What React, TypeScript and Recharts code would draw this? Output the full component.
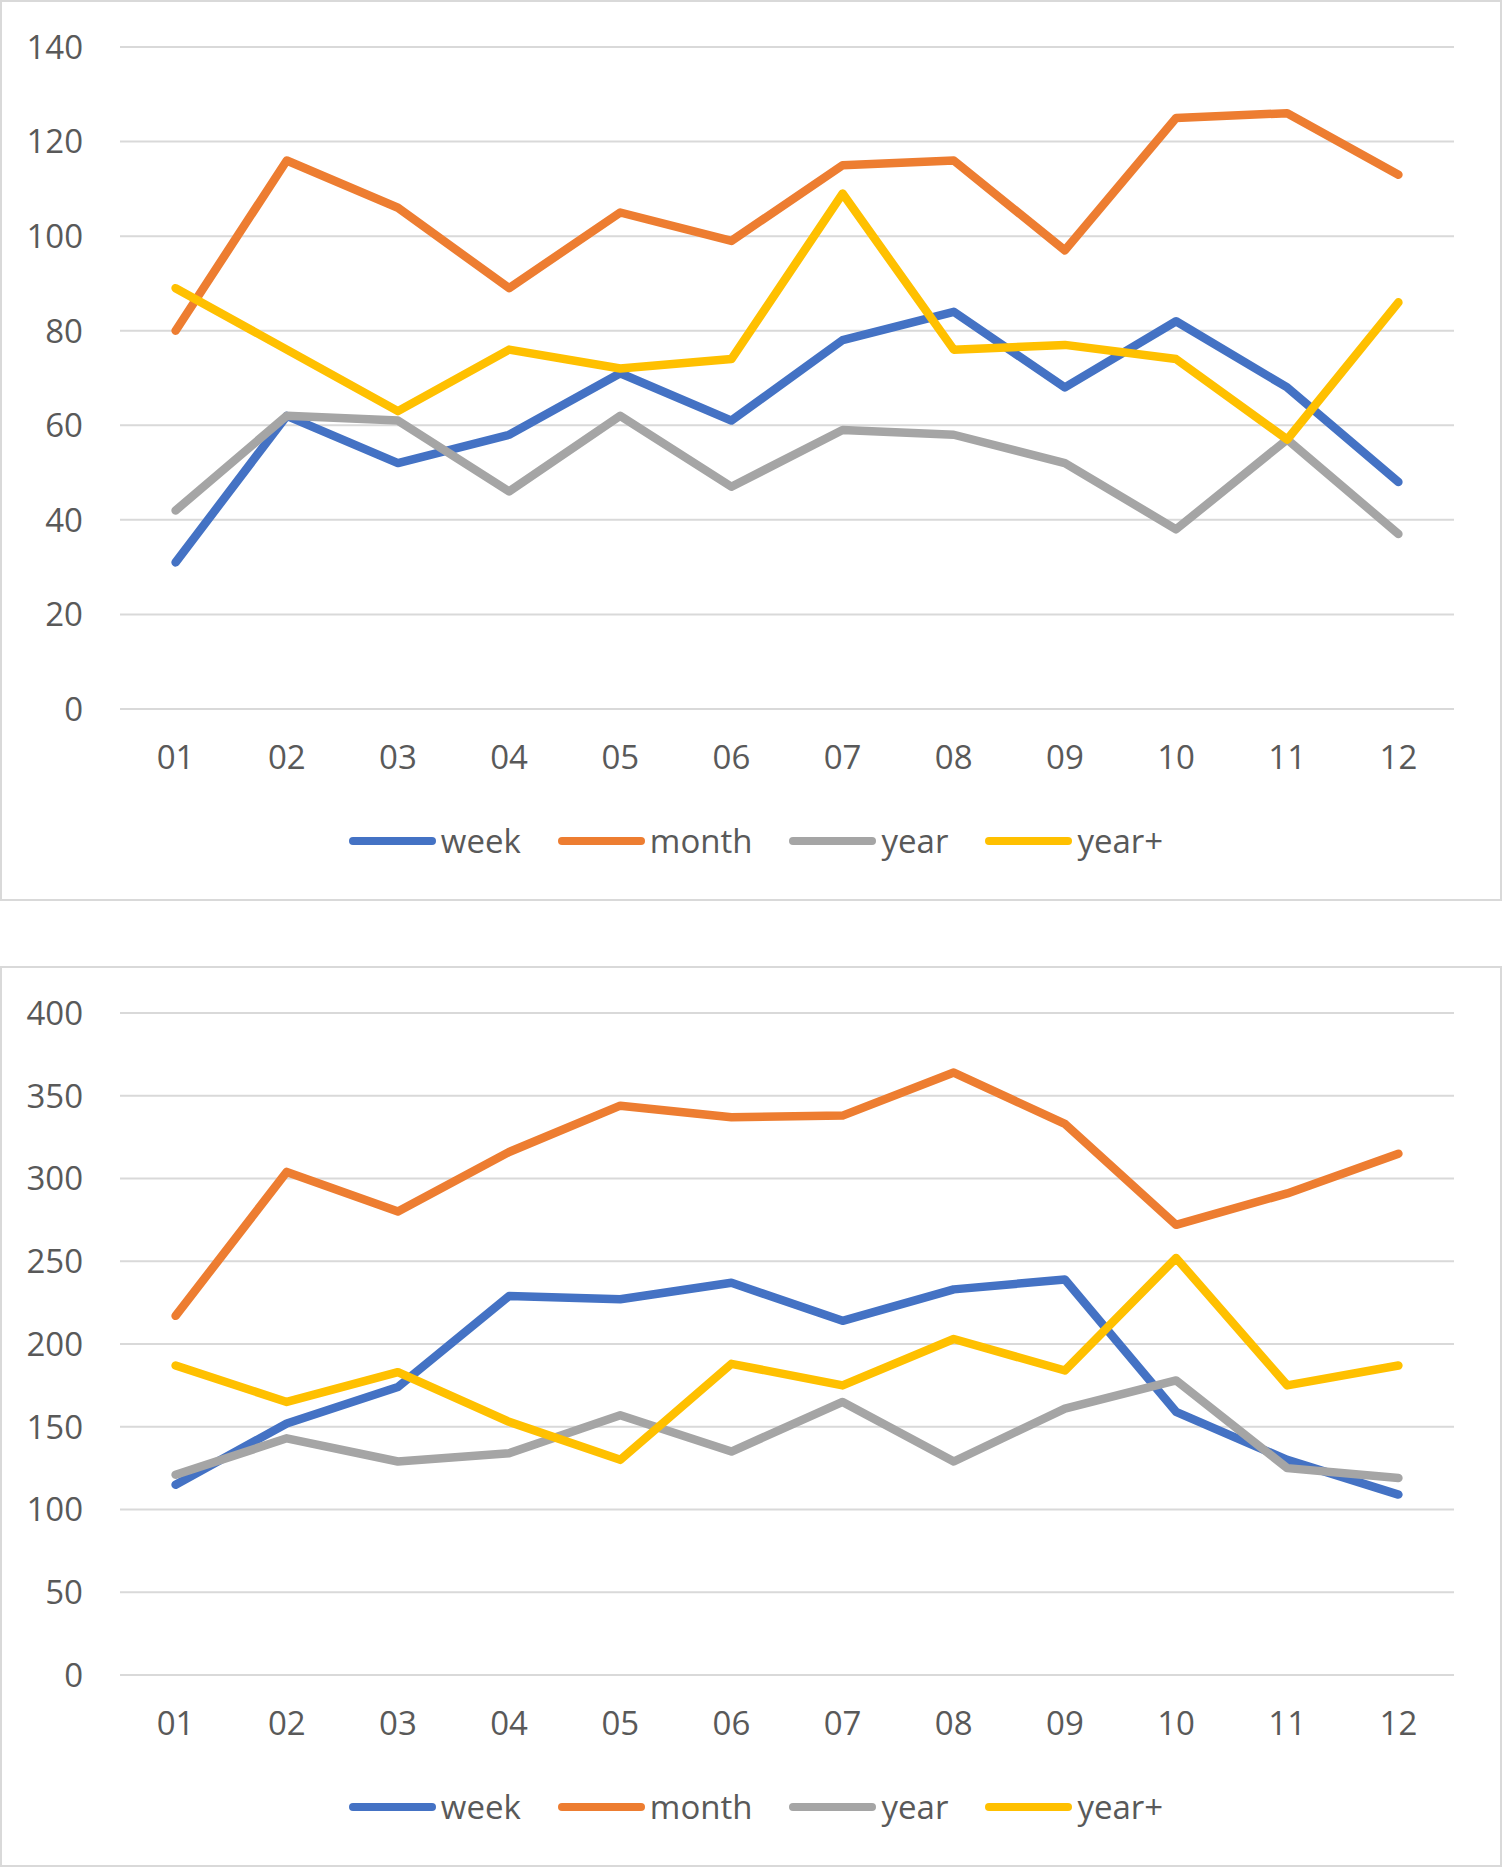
import React from 'react';
import { LineChart, Line, XAxis, YAxis, CartesianGrid, Legend } from 'recharts';

const MONTHS = ['01', '02', '03', '04', '05', '06', '07', '08', '09', '10', '11', '12'];

const TOP_WEEK = [31, 62, 52, 58, 71, 61, 78, 84, 68, 82, 68, 48];
const TOP_MONTH = [80, 116, 106, 89, 105, 99, 115, 116, 97, 125, 126, 113];
const TOP_YEAR = [42, 62, 61, 46, 62, 47, 59, 58, 52, 38, 57, 37];
const TOP_YEAR_PLUS = [89, 76, 63, 76, 72, 74, 109, 76, 77, 74, 57, 86];
const TOP_TICKS = [0, 20, 40, 60, 80, 100, 120, 140];

const BOTTOM_WEEK = [115, 152, 174, 229, 227, 237, 214, 233, 239, 159, 130, 109];
const BOTTOM_MONTH = [217, 304, 280, 316, 344, 337, 338, 364, 333, 272, 291, 315];
const BOTTOM_YEAR = [121, 143, 129, 134, 157, 135, 165, 129, 161, 178, 125, 119];
const BOTTOM_YEAR_PLUS = [187, 165, 183, 153, 130, 188, 175, 203, 184, 252, 175, 187];
const BOTTOM_TICKS = [0, 50, 100, 150, 200, 250, 300, 350, 400];

const SERIES = [
  { key: 'week', name: 'week', color: '#4472C4' },
  { key: 'month', name: 'month', color: '#ED7D31' },
  { key: 'year', name: 'year', color: '#A5A5A5' },
  { key: 'yearPlus', name: 'year+', color: '#FFC000' },
];
const SERIES_ORDER = SERIES.map((s) => s.name);

const FONT = "'Open Sans', sans-serif";
const TEXT = '#595959';
const FS = 33;
const LINE_W = 8.5;

function buildRows(week: number[], month: number[], year: number[], yearPlus: number[]) {
  return MONTHS.map((m, i) => ({ m, week: week[i], month: month[i], year: year[i], yearPlus: yearPlus[i] }));
}

const YTick = (props: any) => {
  const { x, y, payload } = props;
  return (
    <text x={x - 37} y={y} dy="0.36em" textAnchor="end" fill={TEXT} fontSize={FS} fontFamily={FONT}>
      {payload.value}
    </text>
  );
};

const XTick = (props: any) => {
  const { x, y, payload } = props;
  return (
    <text x={x} y={y + 48} dy="0.36em" textAnchor="middle" fill={TEXT} fontSize={FS} fontFamily={FONT}>
      {payload.value}
    </text>
  );
};

const LegendContent = (props: any) => {
  const payload = [...(props.payload || [])].sort(
    (a: any, b: any) => SERIES_ORDER.indexOf(a.value) - SERIES_ORDER.indexOf(b.value)
  );
  return (
    <div
      style={{
        height: 60,
        display: 'flex',
        alignItems: 'center',
        justifyContent: 'center',
        paddingLeft: 10,
        gap: 37,
        fontFamily: FONT,
        fontSize: FS,
        color: TEXT,
      }}
    >
      {payload.map((p: any) => (
        <div key={p.value} style={{ display: 'flex', alignItems: 'center' }}>
          <span
            style={{
              display: 'inline-block',
              width: 87,
              height: LINE_W,
              borderRadius: LINE_W / 2,
              background: p.color,
              marginRight: 5,
            }}
          />
          <span style={{ lineHeight: '40px' }}>{p.value}</span>
        </div>
      ))}
    </div>
  );
};

function Panel({ top, rows, max, ticks }: { top: number; rows: any[]; max: number; ticks: number[] }) {
  return (
    <div
      style={{
        position: 'absolute',
        left: 0,
        top,
        width: 1502,
        height: 901,
        border: '2px solid #D9D9D9',
        boxSizing: 'border-box',
        background: '#fff',
      }}
    >
      <div style={{ position: 'absolute', left: 0, top: 0 }}>
        <LineChart width={1498} height={897} data={rows} margin={{ top: 45, right: 46, bottom: 28, left: 0 }}>
          <CartesianGrid horizontal vertical={false} stroke="#D9D9D9" strokeWidth={2} />
          <XAxis
            dataKey="m"
            padding={{ left: 55.6, right: 55.6 }}
            height={102}
            axisLine={false}
            tickLine={false}
            tickSize={0}
            tickMargin={0}
            interval={0}
            tick={<XTick />}
          />
          <YAxis
            type="number"
            domain={[0, max]}
            ticks={ticks}
            width={118}
            axisLine={false}
            tickLine={false}
            tickSize={0}
            tickMargin={0}
            interval={0}
            tick={<YTick />}
          />
          <Legend
            verticalAlign="bottom"
            wrapperStyle={{ left: 0, width: 1498, height: 60 }}
            content={<LegendContent />}
          />
          {SERIES.map((s) => (
            <Line
              key={s.key}
              type="linear"
              dataKey={s.key}
              name={s.name}
              stroke={s.color}
              strokeWidth={LINE_W}
              strokeLinecap="round"
              strokeLinejoin="round"
              dot={false}
              activeDot={false}
              isAnimationActive={false}
            />
          ))}
        </LineChart>
      </div>
    </div>
  );
}

export default function App() {
  const topRows = buildRows(TOP_WEEK, TOP_MONTH, TOP_YEAR, TOP_YEAR_PLUS);
  const bottomRows = buildRows(BOTTOM_WEEK, BOTTOM_MONTH, BOTTOM_YEAR, BOTTOM_YEAR_PLUS);
  return (
    <div style={{ position: 'absolute', left: 0, top: 0, width: 1504, height: 1869, background: '#fff', fontFamily: FONT }}>
      <Panel top={0} rows={topRows} max={140} ticks={TOP_TICKS} />
      <Panel top={966} rows={bottomRows} max={400} ticks={BOTTOM_TICKS} />
    </div>
  );
}
